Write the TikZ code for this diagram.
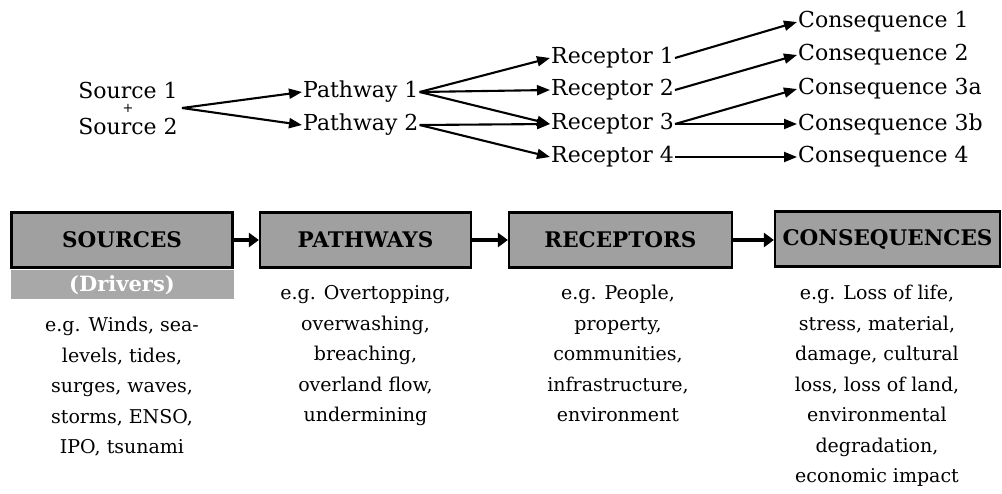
\documentclass[tikz,border=0pt]{standalone}
\usepackage{fontspec}
\setmainfont{DejaVu Serif}
\usetikzlibrary{arrows.meta}
\definecolor{boxgray}{HTML}{A0A0A0}
\definecolor{drvgray}{HTML}{A8A8A8}
\tikzset{
	item/.style={font=\fontsize{22}{24}\selectfont, inner sep=1pt},
	link/.style={line width=2.1pt, -{Triangle[length=13pt,width=10pt]}},
	stage/.style={draw=black, line width=2.2pt, fill=boxgray, minimum height=55pt,
		font=\fontsize{21.5}{24}\selectfont\bfseries},
	flow/.style={line width=4pt, -{Triangle[length=10pt,width=14pt]}},
	note/.style={align=center, anchor=north, font=\fontsize{19}{30.5}\selectfont}
}
\begin{document}
\begin{tikzpicture}[x=1pt, y=-1pt]
			\useasboundingbox (0,0) rectangle (1002,493);
			%top chain
			\node[item] (src1) at (128, 90){Source 1};
			\node[inner sep=0pt, font=\fontsize{13}{13}\selectfont] (plus) at (128, 108.5){+};
			\node[item] (src2) at (128, 126){Source 2};
			\coordinate (srcout) at (182, 108);
			
			\node[item, anchor=west] (pw1) at (302, 92){Pathway 1};
			\node[item, anchor=west] (pw2) at (302, 125){Pathway 2};
			
			\foreach \y [count=\i] in {58, 90, 124, 157}{
				\node[item, anchor=west] (rc\i) at (550, \y){Receptor \i};
			}
			\foreach \y/\n in {22/1, 55/2, 89/3a, 124/3b, 157/4}{
				\node[item, anchor=west] (cq\n) at (797, \y){Consequence \n};
			}
			
			\foreach \t in {pw1, pw2}{
				\draw[link] (srcout) -- (\t.west);
			}
			\foreach \a/\b in {pw1/rc1, pw1/rc2, pw1/rc3, pw2/rc3, pw2/rc4}{
				\draw[link] (\a.east) -- (\b.west);
			}
			\foreach \a/\b in {rc1/cq1, rc2/cq2, rc3/cq3a, rc3/cq3b, rc4/cq4}{
				\draw[link] (\a.east) -- (\b.west);
			}
			
			%stage boxes
			\node[stage, minimum width=221pt] (sources) at (122, 240){SOURCES};
			\node[fill=drvgray, minimum width=223pt, minimum height=29pt, text=white,
				font=\fontsize{21}{24}\selectfont\bfseries, anchor=north] (drivers)
				at (122, 270){(Drivers)};
			\node[stage, minimum width=211pt] (pathways) at (365.5, 240){PATHWAYS};
			\node[stage, minimum width=223pt] (receptors) at (620.5, 240){RECEPTORS};
			\node[stage, minimum width=225pt] (consequences) at (887.5, 239){CONSEQUENCES};
			
			\foreach \a/\b in {sources/pathways, pathways/receptors, receptors/consequences}{
				\draw[flow] (\a.east) -- (\a.east -| \b.west);
			}
			
			%examples
			\node[note] (srcnote) at (122, 314){e.g. Winds, sea-\\levels, tides,\\surges, waves,\\storms, ENSO,\\IPO, tsunami};
			\node[note] (pwnote) at (365.5, 282){e.g. Overtopping,\\overwashing,\\breaching,\\overland flow,\\undermining};
			\node[note] (rcnote) at (618, 282){e.g. People,\\property,\\communities,\\infrastructure,\\environment};
			\node[note] (cqnote) at (877, 282){e.g. Loss of life,\\stress, material,\\damage, cultural\\loss, loss of land,\\environmental\\degradation,\\economic impact};
\end{tikzpicture}
\end{document}
